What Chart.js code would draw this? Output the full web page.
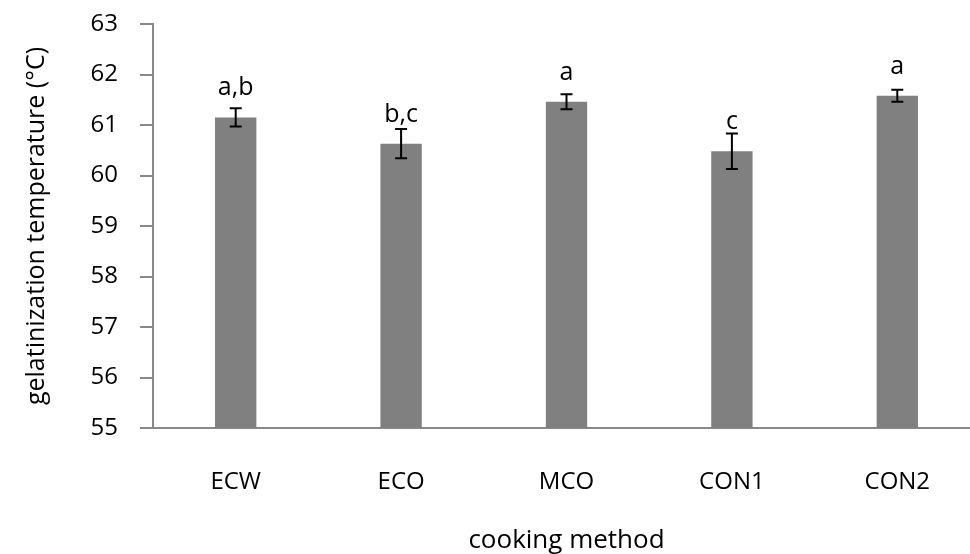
<!DOCTYPE html>
<html>
<head>
<meta charset="utf-8">
<title>gelatinization temperature</title>
<script src="https://cdn.jsdelivr.net/npm/chart.js@4"></script>
<style>
  html, body { margin: 0; padding: 0; background: #fff; overflow: hidden; }
  #wrap { width: 990px; height: 554px; }
</style>
</head>
<body>
<div id="wrap"><canvas id="myChart" width="990" height="554"></canvas></div>
<script>
// values
var methods = ['ECW', 'ECO', 'MCO', 'CON1', 'CON2'];
var temps = [61.15, 60.63, 61.46, 60.48, 61.58];
var errs = [0.18, 0.29, 0.15, 0.35, 0.12];
var letters = ['a,b', 'b,c', 'a', 'c', 'a'];
var yTicks = [55, 56, 57, 58, 59, 60, 61, 62, 63];

var FONT = "'Open Sans', 'Noto Sans', sans-serif";

// error bars + significance letters
var errPlugin = {
  id: 'errPlugin',
  afterDatasetsDraw: function(chart) {
    var ctx = chart.ctx;
    var meta = chart.getDatasetMeta(0);
    var y = chart.scales.y;
    ctx.save();
    ctx.strokeStyle = '#000';
    ctx.lineWidth = 2;
    meta.data.forEach(function(bar, i) {
      var x = bar.x;
      var top = y.getPixelForValue(temps[i] + errs[i]);
      var bot = y.getPixelForValue(temps[i] - errs[i]);
      ctx.beginPath();
      ctx.moveTo(x, top); ctx.lineTo(x, bot);
      ctx.moveTo(x - 6, top); ctx.lineTo(x + 6, top);
      ctx.moveTo(x - 6, bot); ctx.lineTo(x + 6, bot);
      ctx.stroke();
      // letter sits a fixed distance above the bar top
      ctx.fillStyle = '#000';
      ctx.font = '25px ' + FONT;
      ctx.textAlign = 'center';
      ctx.textBaseline = 'alphabetic';
      ctx.fillText(letters[i], x, bar.y - 22);
    });
    ctx.restore();
  }
};

var ctx = document.getElementById('myChart');
var myChart = new Chart(ctx, {
  type: 'bar',
  data: {
    labels: methods,
    datasets: [{
      data: temps,
      backgroundColor: '#808080',
      borderWidth: 0,
      barPercentage: 0.25,
      categoryPercentage: 1.0
    }]
  },
  options: {
    responsive: false,
    animation: false,
    layout: { padding: { top: 24, right: 10, left: 0, bottom: 0 } },
    plugins: { legend: { display: false }, tooltip: { enabled: false } },
    scales: {
      x: {
        grid: { display: false, drawTicks: false },
        border: { color: '#888', width: 2 },
        ticks: { color: '#000', font: { family: FONT, size: 24 }, padding: 40 },
        title: { display: true, text: 'cooking method', color: '#000', font: { family: FONT, size: 26, lineHeight: 1 }, padding: { top: 0, bottom: 0 } },
        afterFit: function(s) { s.height = 126; }
      },
      y: {
        min: 55, max: 63,
        afterBuildTicks: function(s) { s.ticks = yTicks.map(function(v) { return { value: v }; }); },
        grid: { drawOnChartArea: false, color: '#888', lineWidth: 2, tickLength: 13 },
        border: { color: '#888', width: 2 },
        ticks: { color: '#000', font: { family: FONT, size: 24 }, padding: 22 },
        title: { display: true, text: 'gelatinization temperature (°C)', color: '#000', font: { family: FONT, size: 25, lineHeight: 1 }, padding: { top: 24, bottom: 0 } },
        afterFit: function(s) { s.width = 153; s.paddingTop = 0; s.paddingBottom = 0; }
      }
    }
  },
  plugins: [errPlugin]
});
</script>
</body>
</html>
